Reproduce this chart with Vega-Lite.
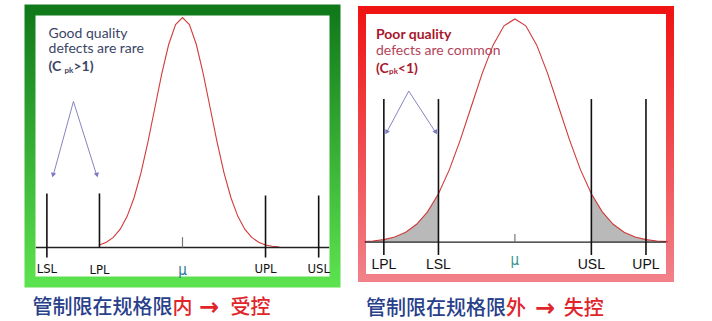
{
  "$schema": "https://vega.github.io/schema/vega-lite/v6.json",
  "background": "white",
  "padding": {"left": 24, "top": 4, "right": 0, "bottom": 0},
  "spacing": 16,
  "config": {"view": {"fill": "white"}},
  "hconcat": [
    {
      "width": 305,
      "height": 272,
      "view": {
        "fill": "white",
        "strokeWidth": 11,
        "stroke": {"gradient": "linear", "x1": 0, "y1": 0, "x2": 0, "y2": 1,
          "stops": [{"offset": 0, "color": "#10791a"}, {"offset": 1, "color": "#5ce24e"}]}
      },
      "encoding": {
        "x": {"field": "z", "type": "quantitative", "scale": {"domain": [-5.51, 5.51], "nice": false, "zero": false}, "axis": null},
        "y": {"field": "y", "type": "quantitative", "scale": {"domain": [-0.15, 1.0326], "nice": false, "zero": false}, "axis": null}
      },
      "layer": [
        {
          "data": {"values": [
            {"z": -3, "y": 0.0111}, {"z": -2.75, "y": 0.0228}, {"z": -2.5, "y": 0.0439}, {"z": -2.25, "y": 0.0796},
            {"z": -2, "y": 0.1353}, {"z": -1.75, "y": 0.2163}, {"z": -1.5, "y": 0.3247}, {"z": -1.25, "y": 0.4578},
            {"z": -1, "y": 0.6065}, {"z": -0.75, "y": 0.7548}, {"z": -0.5, "y": 0.8825}, {"z": -0.25, "y": 0.9692},
            {"z": 0, "y": 1}, {"z": 0.25, "y": 0.9692}, {"z": 0.5, "y": 0.8825}, {"z": 0.75, "y": 0.7548},
            {"z": 1, "y": 0.6065}, {"z": 1.25, "y": 0.4578}, {"z": 1.5, "y": 0.3247}, {"z": 1.75, "y": 0.2163},
            {"z": 2, "y": 0.1353}, {"z": 2.25, "y": 0.0796}, {"z": 2.5, "y": 0.0439}, {"z": 2.75, "y": 0.0228},
            {"z": 3, "y": 0.0111}, {"z": 3.25, "y": 0.0051}, {"z": 3.5, "y": 0.0022}
          ]},
          "mark": {"type": "line", "color": "#d23a3a", "strokeWidth": 1.1}
        },
        {
          "data": {"values": [{"z": -5.3, "z2": 5.3, "y": 0}]},
          "mark": {"type": "rule", "color": "#222222", "strokeWidth": 1.3},
          "encoding": {"x2": {"field": "z2"}}
        },
        {
          "data": {"values": [
            {"z": -4.9, "y": 0.235, "y2": -0.0435},
            {"z": -3, "y": 0.235, "y2": 0},
            {"z": 3, "y": 0.226, "y2": -0.0435},
            {"z": 4.92, "y": 0.226, "y2": -0.0435}
          ]},
          "mark": {"type": "rule", "color": "#111111", "strokeWidth": 1.6},
          "encoding": {"y2": {"field": "y2"}}
        },
        {
          "data": {"values": [{"z": 0, "y": 0.045, "y2": 0}]},
          "mark": {"type": "rule", "color": "#777777", "strokeWidth": 1.2},
          "encoding": {"y2": {"field": "y2"}}
        },
        {
          "data": {"values": [
            {"z": -3.94, "y": 0.635, "z2": -4.68, "y2": 0.31},
            {"z": -3.94, "y": 0.635, "z2": -3.09, "y2": 0.31}
          ]},
          "mark": {"type": "rule", "color": "#8585c2", "strokeWidth": 1},
          "encoding": {"x2": {"field": "z2"}, "y2": {"field": "y2"}}
        },
        {
          "data": {"values": [
            {"z": -4.68, "y": 0.315, "a": 15},
            {"z": -3.09, "y": 0.315, "a": -15}
          ]},
          "mark": {"type": "point", "shape": "triangle-down", "filled": true, "color": "#7a7ac4", "size": 28, "opacity": 1},
          "encoding": {"angle": {"field": "a", "type": "quantitative", "scale": null}}
        },
        {
          "data": {"values": [
            {"z": -4.9, "y": -0.093, "label": "LSL"},
            {"z": -3, "y": -0.1, "label": "LPL"},
            {"z": 3, "y": -0.093, "label": "UPL"},
            {"z": 4.92, "y": -0.093, "label": "USL"}
          ]},
          "mark": {"type": "text", "font": "DejaVu Sans Condensed", "fontSize": 13, "color": "#111111", "baseline": "middle", "align": "center"},
          "encoding": {"text": {"field": "label"}}
        },
        {
          "data": {"values": [{"z": 0, "y": -0.1, "label": "μ"}]},
          "mark": {"type": "text", "font": "DejaVu Sans Condensed", "fontSize": 15, "color": "#2a7896", "baseline": "middle", "align": "center"},
          "encoding": {"text": {"field": "label"}}
        },
        {
          "data": {"values": [
            {"z": -4.84, "y": 0.93, "label": "Good quality"},
            {"z": -4.84, "y": 0.861, "label": "defects are rare"}
          ]},
          "mark": {"type": "text", "font": "Lato", "fontSize": 14, "color": "#3b4466", "baseline": "middle", "align": "left"},
          "encoding": {"text": {"field": "label"}}
        },
        {
          "data": {"values": [
            {"z": -4.84, "y": 0.783, "label": "(C"},
            {"z": -3.94, "y": 0.783, "label": ">1)"}
          ]},
          "mark": {"type": "text", "font": "Lato", "fontSize": 14, "fontWeight": "bold", "color": "#3b4466", "baseline": "middle", "align": "left"},
          "encoding": {"text": {"field": "label"}}
        },
        {
          "data": {"values": [{"z": -4.265, "y": 0.768, "label": "pk"}]},
          "mark": {"type": "text", "font": "Lato", "fontSize": 8, "fontWeight": "bold", "color": "#3b4466", "baseline": "middle", "align": "left"},
          "encoding": {"text": {"field": "label"}}
        },
        {
          "data": {"values": [
            {"z": -5.42, "y": -0.262, "label": "管制限在规格限", "c": "#28408a"},
            {"z": -0.36, "y": -0.262, "label": "内", "c": "#e0242a"},
            {"z": 1.735, "y": -0.262, "label": "受控", "c": "#e0242a"}
          ]},
          "mark": {"type": "text", "font": "Noto Sans CJK SC", "fontSize": 20, "fontWeight": 500, "baseline": "middle", "align": "left"},
          "encoding": {"text": {"field": "label"}, "color": {"field": "c", "type": "nominal", "scale": null}}
        },
        {
          "data": {"values": [{"z": 0.6, "y": -0.262, "label": "→"}]},
          "mark": {"type": "text", "font": "DejaVu Sans", "fontSize": 24, "fontWeight": "bold", "color": "#e0242a", "baseline": "middle", "align": "left"},
          "encoding": {"text": {"field": "label"}}
        }
      ]
    },
    {
      "width": 308,
      "height": 268,
      "view": {
        "fill": "white",
        "strokeWidth": 8,
        "stroke": {"gradient": "linear", "x1": 0, "y1": 0, "x2": 0, "y2": 1,
          "stops": [{"offset": 0, "color": "#f01414"}, {"offset": 1, "color": "#f28088"}]}
      },
      "encoding": {
        "x": {"field": "z", "type": "quantitative", "scale": {"domain": [-3.5, 3.55], "nice": false, "zero": false}, "axis": null},
        "y": {"field": "y", "type": "quantitative", "scale": {"domain": [-0.161, 1.04], "nice": false, "zero": false}, "axis": null}
      },
      "layer": [
        {
          "data": {"values": [
            {"z": -3.45, "y": 0.0026, "g": "L"}, {"z": -3.25, "y": 0.0051, "g": "L"}, {"z": -3, "y": 0.0111, "g": "L"},
            {"z": -2.75, "y": 0.0228, "g": "L"}, {"z": -2.5, "y": 0.0439, "g": "L"}, {"z": -2.25, "y": 0.0796, "g": "L"},
            {"z": -2, "y": 0.1353, "g": "L"}, {"z": -1.75, "y": 0.2163, "g": "L"},
            {"z": 1.75, "y": 0.2163, "g": "R"}, {"z": 2, "y": 0.1353, "g": "R"}, {"z": 2.25, "y": 0.0796, "g": "R"},
            {"z": 2.5, "y": 0.0439, "g": "R"}, {"z": 2.75, "y": 0.0228, "g": "R"}, {"z": 3, "y": 0.0111, "g": "R"},
            {"z": 3.25, "y": 0.0051, "g": "R"}, {"z": 3.5, "y": 0.0022, "g": "R"}
          ]},
          "mark": {"type": "area", "color": "#b9b9b9", "opacity": 1},
          "encoding": {"y2": {"datum": 0}, "detail": {"field": "g"}}
        },
        {
          "data": {"values": [
            {"z": -3.45, "y": 0.0026}, {"z": -3.25, "y": 0.0051},
            {"z": -3, "y": 0.0111}, {"z": -2.75, "y": 0.0228}, {"z": -2.5, "y": 0.0439}, {"z": -2.25, "y": 0.0796},
            {"z": -2, "y": 0.1353}, {"z": -1.75, "y": 0.2163}, {"z": -1.5, "y": 0.3247}, {"z": -1.25, "y": 0.4578},
            {"z": -1, "y": 0.6065}, {"z": -0.75, "y": 0.7548}, {"z": -0.5, "y": 0.8825}, {"z": -0.25, "y": 0.9692},
            {"z": 0, "y": 1}, {"z": 0.25, "y": 0.9692}, {"z": 0.5, "y": 0.8825}, {"z": 0.75, "y": 0.7548},
            {"z": 1, "y": 0.6065}, {"z": 1.25, "y": 0.4578}, {"z": 1.5, "y": 0.3247}, {"z": 1.75, "y": 0.2163},
            {"z": 2, "y": 0.1353}, {"z": 2.25, "y": 0.0796}, {"z": 2.5, "y": 0.0439}, {"z": 2.75, "y": 0.0228},
            {"z": 3, "y": 0.0111}, {"z": 3.25, "y": 0.0051}, {"z": 3.5, "y": 0.0022}
          ]},
          "mark": {"type": "line", "color": "#cf3a3a", "strokeWidth": 1.1}
        },
        {
          "data": {"values": [{"z": -3.43, "z2": 3.46, "y": 0}]},
          "mark": {"type": "rule", "color": "#222222", "strokeWidth": 1.3},
          "encoding": {"x2": {"field": "z2"}}
        },
        {
          "data": {"values": [
            {"z": -3, "y": 0.641, "y2": -0.058},
            {"z": -1.75, "y": 0.641, "y2": -0.058},
            {"z": 1.75, "y": 0.641, "y2": -0.058},
            {"z": 3, "y": 0.641, "y2": -0.058}
          ]},
          "mark": {"type": "rule", "color": "#111111", "strokeWidth": 1.6},
          "encoding": {"y2": {"field": "y2"}}
        },
        {
          "data": {"values": [{"z": 0, "y": 0.036, "y2": 0}]},
          "mark": {"type": "rule", "color": "#777777", "strokeWidth": 1.2},
          "encoding": {"y2": {"field": "y2"}}
        },
        {
          "data": {"values": [
            {"z": -2.43, "y": 0.677, "z2": -2.94, "y2": 0.49},
            {"z": -2.43, "y": 0.677, "z2": -1.81, "y2": 0.49}
          ]},
          "mark": {"type": "rule", "color": "#8585c2", "strokeWidth": 1},
          "encoding": {"x2": {"field": "z2"}, "y2": {"field": "y2"}}
        },
        {
          "data": {"values": [
            {"z": -2.94, "y": 0.492, "a": 29},
            {"z": -1.81, "y": 0.492, "a": -29}
          ]},
          "mark": {"type": "point", "shape": "triangle-down", "filled": true, "color": "#7a7ac4", "size": 28, "opacity": 1},
          "encoding": {"angle": {"field": "a", "type": "quantitative", "scale": null}}
        },
        {
          "data": {"values": [
            {"z": -3, "y": -0.103, "label": "LPL"},
            {"z": -1.75, "y": -0.103, "label": "LSL"},
            {"z": 1.75, "y": -0.103, "label": "USL"},
            {"z": 3, "y": -0.103, "label": "UPL"}
          ]},
          "mark": {"type": "text", "font": "Liberation Sans", "fontSize": 14, "color": "#111111", "baseline": "middle", "align": "center"},
          "encoding": {"text": {"field": "label"}}
        },
        {
          "data": {"values": [{"z": 0, "y": -0.081, "label": "μ"}]},
          "mark": {"type": "text", "font": "DejaVu Sans Condensed", "fontSize": 15, "color": "#3a9090", "baseline": "middle", "align": "center"},
          "encoding": {"text": {"field": "label"}}
        },
        {
          "data": {"values": [
            {"z": -3.18, "y": 0.857, "label": "defects are common"}
          ]},
          "mark": {"type": "text", "font": "Lato", "fontSize": 14, "color": "#b2445a", "baseline": "middle", "align": "left"},
          "encoding": {"text": {"field": "label"}}
        },
        {
          "data": {"values": [
            {"z": -3.18, "y": 0.928, "label": "Poor quality"},
            {"z": -3.18, "y": 0.776, "label": "(C"},
            {"z": -2.68, "y": 0.776, "label": "<1)"}
          ]},
          "mark": {"type": "text", "font": "Lato", "fontSize": 14, "fontWeight": "bold", "color": "#a8182e", "baseline": "middle", "align": "left"},
          "encoding": {"text": {"field": "label"}}
        },
        {
          "data": {"values": [{"z": -2.88, "y": 0.761, "label": "pk"}]},
          "mark": {"type": "text", "font": "Lato", "fontSize": 8, "fontWeight": "bold", "color": "#a8182e", "baseline": "middle", "align": "left"},
          "encoding": {"text": {"field": "label"}}
        },
        {
          "data": {"values": [
            {"z": -3.41, "y": -0.298, "label": "管制限在规格限", "c": "#28408a"},
            {"z": -0.206, "y": -0.298, "label": "外", "c": "#e0242a"},
            {"z": 1.12, "y": -0.298, "label": "失控", "c": "#e0242a"}
          ]},
          "mark": {"type": "text", "font": "Noto Sans CJK SC", "fontSize": 20, "fontWeight": 500, "baseline": "middle", "align": "left"},
          "encoding": {"text": {"field": "label"}, "color": {"field": "c", "type": "nominal", "scale": null}}
        },
        {
          "data": {"values": [{"z": 0.46, "y": -0.298, "label": "→"}]},
          "mark": {"type": "text", "font": "DejaVu Sans", "fontSize": 24, "fontWeight": "bold", "color": "#e0242a", "baseline": "middle", "align": "left"},
          "encoding": {"text": {"field": "label"}}
        }
      ]
    }
  ]
}
